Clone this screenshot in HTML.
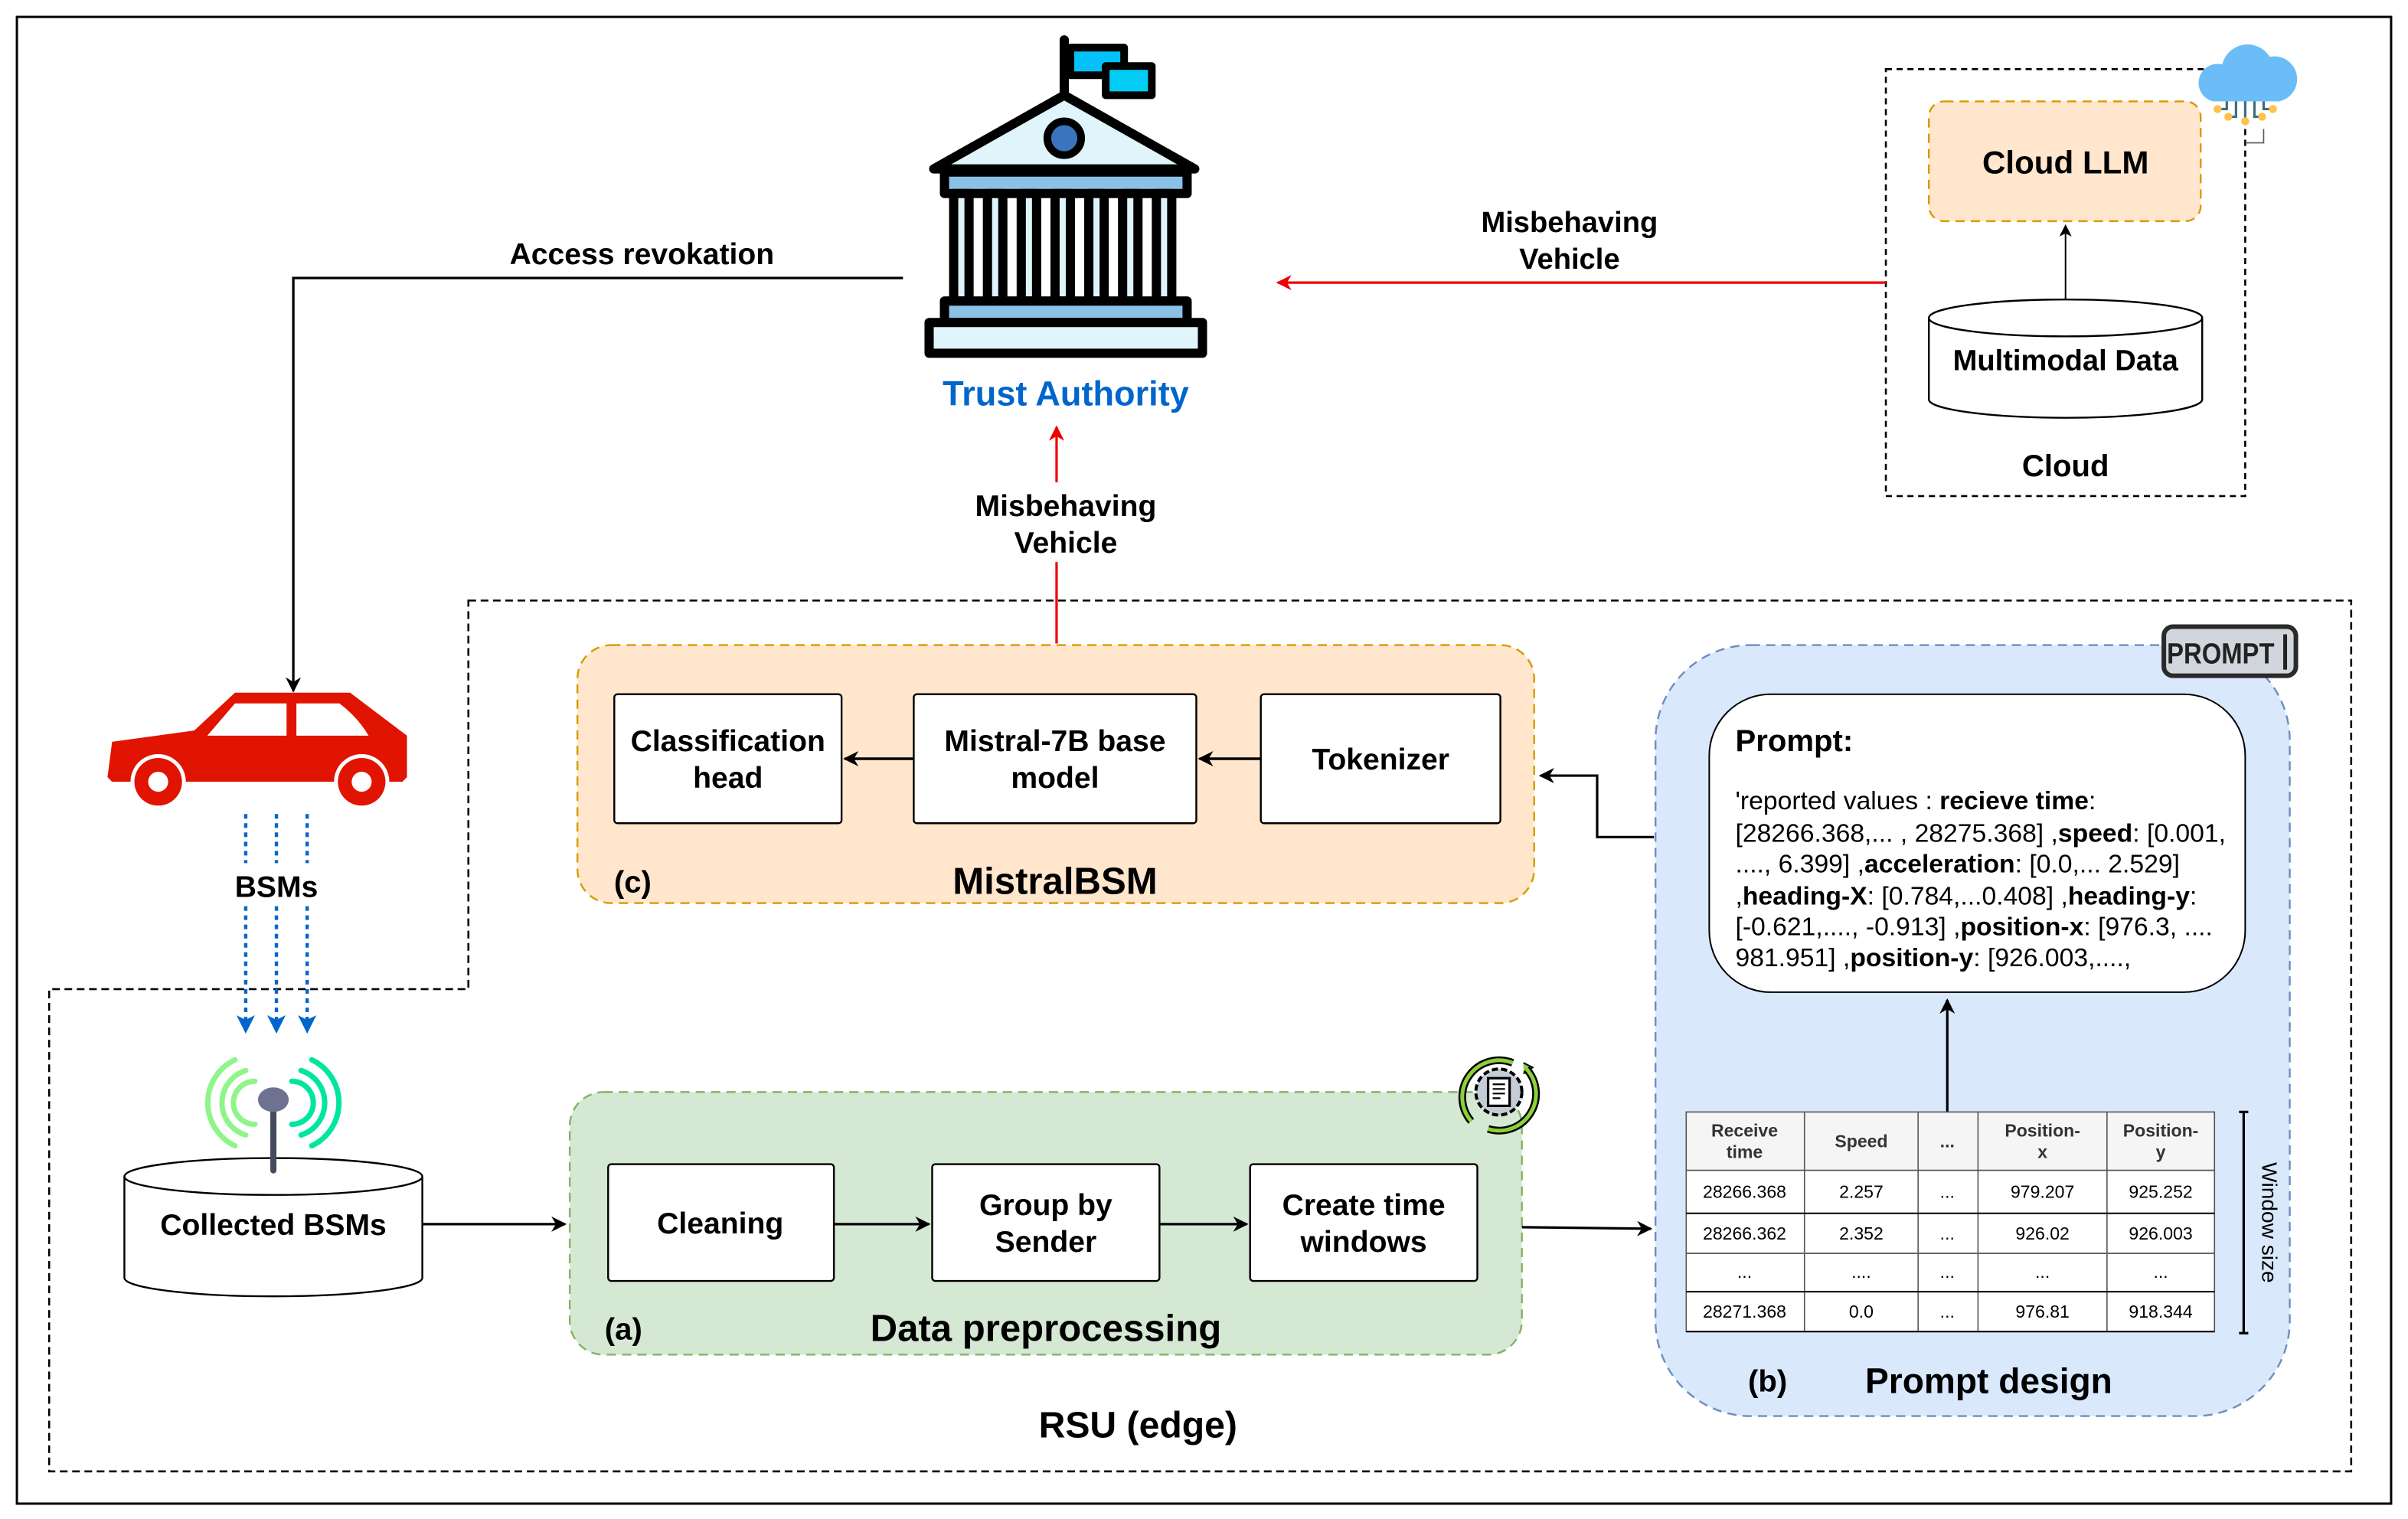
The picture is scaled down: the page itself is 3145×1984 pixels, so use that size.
<!DOCTYPE html>
<html><head><meta charset="utf-8"><style>
html,body{margin:0;padding:0;background:#fff;}
svg{display:block;}
text{font-family:"Liberation Sans",Arial,sans-serif;}
</style></head><body>
<svg width="3145" height="1984" viewBox="0 0 1568 989" preserveAspectRatio="none" xmlns="http://www.w3.org/2000/svg">
<defs>
<marker id="ab" markerWidth="10" markerHeight="10" refX="9" refY="5" orient="auto" markerUnits="userSpaceOnUse"><path d="M0,0 L10,5 L0,10 L3,5 z" fill="#000"/></marker>
<marker id="ar" markerWidth="10" markerHeight="10" refX="9" refY="5" orient="auto" markerUnits="userSpaceOnUse"><path d="M0,0 L10,5 L0,10 L3,5 z" fill="#e00"/></marker>
<marker id="as" markerWidth="8" markerHeight="8" refX="7" refY="4" orient="auto" markerUnits="userSpaceOnUse"><path d="M0,0 L8,4 L0,8 L2,4 z" fill="#000"/></marker>
<marker id="abl" markerWidth="12" markerHeight="12" refX="11" refY="6" orient="auto" markerUnits="userSpaceOnUse"><path d="M0,0 L12,6 L0,12 L3,6 z" fill="#0066cc"/></marker>
</defs>
<rect x="0" y="0" width="1568" height="989" fill="#fff"/>
<rect x="11" y="11" width="1546" height="968" fill="none" stroke="#000" stroke-width="1.5"/>

<!-- Cloud region -->
<rect x="1228" y="45" width="234" height="278" fill="none" stroke="#000" stroke-width="1.3" stroke-dasharray="4,3"/>
<rect x="1256" y="66" width="177" height="78" rx="10" fill="#ffe6cc" stroke="#d79b00" stroke-width="1.2" stroke-dasharray="6,4"/>
<text x="1345" y="113" font-size="21" font-weight="bold" text-anchor="middle">Cloud LLM</text>
<line x1="1345" y1="195" x2="1345" y2="147" stroke="#000" stroke-width="1" marker-end="url(#as)"/>
<path d="M1256,207 L1256,260 A89,12 0 0 0 1434,260 L1434,207" fill="#fff" stroke="#000" stroke-width="1.2"/>
<ellipse cx="1345" cy="207" rx="89" ry="12" fill="#fff" stroke="#000" stroke-width="1.2"/>
<text x="1345" y="241" font-size="19" font-weight="bold" text-anchor="middle">Multimodal Data</text>
<text x="1345" y="310" font-size="20" font-weight="bold" text-anchor="middle">Cloud</text>
<!-- cloud icon -->
<g>
<path d="M1441,66 a12,12 0 0 1 6,-24 a17,17 0 0 1 31,-5 a13,13 0 0 1 6,29 z" fill="#6bbdf7"/>
<g stroke="#3f6e7a" stroke-width="1.6" fill="none">
<path d="M1450,66 v5 h-5"/><path d="M1456,66 v10 h-4"/><path d="M1462,66 v13"/><path d="M1468,66 v10 h4"/><path d="M1474,66 v5 h5"/>
</g>
<g fill="#ffc04d"><circle cx="1444" cy="71" r="2.6"/><circle cx="1451" cy="76" r="2.6"/><circle cx="1462" cy="79" r="2.6"/><circle cx="1473" cy="76" r="2.6"/><circle cx="1480" cy="71" r="2.6"/></g>
<path d="M1474,84 v9 h-12" fill="none" stroke="#555" stroke-width="0.8"/>
</g>

<!-- Red arrow cloud to TA -->
<line x1="1228" y1="184" x2="832" y2="184" stroke="#e00" stroke-width="1.6" marker-end="url(#ar)"/>
<text x="1022" y="151" font-size="19" font-weight="bold" text-anchor="middle">Misbehaving</text>
<text x="1022" y="175" font-size="19" font-weight="bold" text-anchor="middle">Vehicle</text>

<!-- Trust authority icon -->
<g stroke="#000" stroke-width="6" stroke-linejoin="round" stroke-linecap="round">
<rect x="697" y="31" width="35" height="18" fill="#04c1f9" stroke-width="5"/>
<rect x="720" y="43" width="30" height="19" fill="#04cdf5" stroke-width="5"/>
<line x1="693" y1="26" x2="693" y2="62"/>
<path d="M608,110 L693,62 L778,110 Z" fill="#e0f4fb"/>
<circle cx="693" cy="90" r="11" fill="#3a73c0" stroke-width="5"/>
<rect x="615" y="112" width="158" height="14" fill="#8bc1e6"/>
<g fill="#dff3fb">
<rect x="621" y="126" width="10" height="70"/><rect x="643" y="126" width="10" height="70"/><rect x="665" y="126" width="10" height="70"/><rect x="687" y="126" width="10" height="70"/><rect x="709" y="126" width="10" height="70"/><rect x="731" y="126" width="10" height="70"/><rect x="753" y="126" width="10" height="70"/>
</g>
<rect x="615" y="196" width="158" height="14" fill="#8bc1e6"/>
<rect x="605" y="210" width="178" height="20" fill="#e0f4fb"/>
</g>
<text x="694" y="264" font-size="22.5" font-weight="bold" fill="#0066cc" text-anchor="middle">Trust Authority</text>

<!-- access revokation -->
<text x="418" y="172" font-size="19.5" font-weight="bold" text-anchor="middle">Access revokation</text>
<path d="M588,181 L191,181 L191,450" fill="none" stroke="#000" stroke-width="1.6" marker-end="url(#ab)"/>

<!-- red up arrow -->
<line x1="688" y1="419" x2="688" y2="278" stroke="#e00" stroke-width="1.6" marker-end="url(#ar)"/>
<rect x="630" y="314" width="130" height="52" fill="#fff"/>
<text x="694" y="336" font-size="19.5" font-weight="bold" text-anchor="middle">Misbehaving</text>
<text x="694" y="360" font-size="19.5" font-weight="bold" text-anchor="middle">Vehicle</text>

<!-- RSU dashed region -->
<path d="M305,391 L1531,391 L1531,958 L32,958 L32,644 L305,644 Z" fill="none" stroke="#000" stroke-width="1.3" stroke-dasharray="5,3"/>
<text x="741" y="936" font-size="24" font-weight="bold" text-anchor="middle">RSU (edge)</text>

<!-- Car -->
<path d="M73,483 L126.5,475.6 L153,451 L228,451 L265,479 L265,506 L262,509 L73,509 L70,506 Z" fill="#e01400"/>
<path d="M135,479 L153,458 L186.6,458 L186.6,479 Z M193,458 L221,458 Q233,467 240,479 L193,479 Z" fill="#fff"/>
<circle cx="103" cy="509" r="18" fill="#fff"/>
<circle cx="235.5" cy="509" r="18" fill="#fff"/>
<rect x="60" y="509" width="220" height="20" fill="#fff"/>
<circle cx="103" cy="509" r="15.5" fill="#e01400"/>
<circle cx="235.5" cy="509" r="15.5" fill="#e01400"/>
<circle cx="103" cy="509" r="6.5" fill="#fff"/>
<circle cx="235.5" cy="509" r="6.5" fill="#fff"/>

<!-- BSM arrows -->
<g stroke="#0066cc" stroke-width="2.2" stroke-dasharray="3,3">
<line x1="160" y1="530" x2="160" y2="562"/><line x1="180" y1="530" x2="180" y2="562"/><line x1="200" y1="530" x2="200" y2="562"/>
<line x1="160" y1="590" x2="160" y2="672" marker-end="url(#abl)"/>
<line x1="180" y1="590" x2="180" y2="672" marker-end="url(#abl)"/>
<line x1="200" y1="590" x2="200" y2="672" marker-end="url(#abl)"/>
</g>
<text x="180" y="584" font-size="19.5" font-weight="bold" text-anchor="middle">BSMs</text>

<!-- Collected BSMs cylinder -->
<path d="M81,766 L81,832 A97,12 0 0 0 275,832 L275,766" fill="#fff" stroke="#000" stroke-width="1.2"/>
<ellipse cx="178" cy="766" rx="97" ry="12" fill="#fff" stroke="#000" stroke-width="1.2"/>
<text x="178" y="804" font-size="19.5" font-weight="bold" text-anchor="middle">Collected BSMs</text>
<!-- antenna -->
<g fill="none" stroke-linecap="round" stroke-width="3.5">
<path d="M166,704 a14,14 0 0 0 0,28" stroke="#8ff58a"/>
<path d="M160,697 a22,22 0 0 0 0,42" stroke="#8ff58a"/>
<path d="M153,690 a31,31 0 0 0 0,56" stroke="#8ff58a"/>
<path d="M190,704 a14,14 0 0 1 0,28" stroke="#00e69e"/>
<path d="M196,697 a22,22 0 0 1 0,42" stroke="#00e69e"/>
<path d="M203,690 a31,31 0 0 1 0,56" stroke="#00e69e"/>
</g>
<line x1="178" y1="718" x2="178" y2="762" stroke="#474a5a" stroke-width="4" stroke-linecap="round"/>
<ellipse cx="178" cy="716" rx="10" ry="8" fill="#6e7290"/>

<line x1="275" y1="797" x2="368" y2="797" stroke="#000" stroke-width="1.6" marker-end="url(#ab)"/>

<!-- Data preprocessing -->
<rect x="371" y="711" width="620" height="171" rx="22" fill="#d5e8d4" stroke="#82b366" stroke-width="1.2" stroke-dasharray="6,4"/>
<g fill="#fff" stroke="#000" stroke-width="1.2">
<rect x="396" y="758" width="147" height="76" rx="2"/>
<rect x="607" y="758" width="148" height="76" rx="2"/>
<rect x="814" y="758" width="148" height="76" rx="2"/>
</g>
<g font-size="19.5" font-weight="bold" text-anchor="middle">
<text x="469" y="803">Cleaning</text>
<text x="681" y="791">Group by</text><text x="681" y="815">Sender</text>
<text x="888" y="791">Create time</text><text x="888" y="815">windows</text>
</g>
<line x1="543" y1="797" x2="605" y2="797" stroke="#000" stroke-width="1.6" marker-end="url(#ab)"/>
<line x1="755" y1="797" x2="812" y2="797" stroke="#000" stroke-width="1.6" marker-end="url(#ab)"/>
<text x="406" y="872" font-size="20" font-weight="bold" text-anchor="middle">(a)</text>
<text x="681" y="873" font-size="24.5" font-weight="bold" text-anchor="middle">Data preprocessing</text>
<!-- gear icon -->
<g>
<path d="M958,730 a24,24 0 0 1 27,-38" fill="none" stroke="#000" stroke-width="5"/>
<path d="M958,730 a24,24 0 0 1 27,-38" fill="none" stroke="#8cd13a" stroke-width="2.5"/>
<path d="M992,692 l6,3 l-6,4" fill="#8cd13a" stroke="#000" stroke-width="1"/>
<path d="M994,696 a24,24 0 0 1 -25,39" fill="none" stroke="#000" stroke-width="5"/>
<path d="M994,696 a24,24 0 0 1 -25,39" fill="none" stroke="#8cd13a" stroke-width="2.5"/>
<circle cx="976" cy="711" r="15" fill="#c4ccd6" stroke="#000" stroke-width="2" stroke-dasharray="4,2"/>
<rect x="969" y="702" width="14" height="18" fill="#fff" stroke="#000" stroke-width="1.6"/>
<path d="M972,706 h8 M972,709 h8 M972,712 h8 M972,715 h5" stroke="#000" stroke-width="1.1"/>
</g>

<line x1="991" y1="799" x2="1075" y2="800" stroke="#000" stroke-width="1.6" marker-end="url(#ab)"/>

<!-- Prompt design -->
<rect x="1078" y="420" width="413" height="502" rx="62" fill="#dae8fc" stroke="#6c8ebf" stroke-width="1.2" stroke-dasharray="6,4"/>
<rect x="1113" y="452" width="349" height="194" rx="40" fill="#fff" stroke="#000" stroke-width="1"/>
<text x="1130" y="489" font-size="20" font-weight="bold">Prompt:</text>
<g font-size="16.8">
<text x="1130" y="527">'reported values : <tspan font-weight="bold">recieve time</tspan>:</text>
<text x="1130" y="548">[28266.368,... , 28275.368] ,<tspan font-weight="bold">speed</tspan>: [0.001,</text>
<text x="1130" y="568">...., 6.399] ,<tspan font-weight="bold">acceleration</tspan>: [0.0,... 2.529]</text>
<text x="1130" y="589">,<tspan font-weight="bold">heading-X</tspan>: [0.784,...0.408] ,<tspan font-weight="bold">heading-y</tspan>:</text>
<text x="1130" y="609">[-0.621,...., -0.913] ,<tspan font-weight="bold">position-x</tspan>: [976.3, ....</text>
<text x="1130" y="629">981.951] ,<tspan font-weight="bold">position-y</tspan>: [926.003,....,</text>
</g>
<!-- PROMPT icon -->
<rect x="1409" y="408" width="86" height="32" rx="6" fill="#d1d6dc" stroke="#2a2a2a" stroke-width="3"/>
<text x="1446" y="432" font-size="19" font-weight="bold" font-family="Liberation Mono,monospace" text-anchor="middle" fill="#222" textLength="70" lengthAdjust="spacingAndGlyphs">PROMPT</text>
<line x1="1488" y1="413" x2="1488" y2="436" stroke="#222" stroke-width="2.5"/>

<line x1="1268" y1="724" x2="1268" y2="651" stroke="#000" stroke-width="1.6" marker-end="url(#ab)"/>
<!-- table -->
<g stroke="#555" stroke-width="0.8">
<rect x="1098" y="724" width="344" height="38" fill="#f5f5f5"/>
<rect x="1098" y="762" width="344" height="105" fill="#fff"/>
<line x1="1175" y1="724" x2="1175" y2="867"/><line x1="1249" y1="724" x2="1249" y2="867"/><line x1="1288" y1="724" x2="1288" y2="867"/><line x1="1372" y1="724" x2="1372" y2="867"/>
</g>
<g stroke="#000" stroke-width="1">
<line x1="1098" y1="790" x2="1442" y2="790"/><line x1="1098" y1="841" x2="1442" y2="841"/><line x1="1098" y1="867" x2="1442" y2="867"/><line x1="1098" y1="816" x2="1442" y2="816" stroke="#666"/>
</g>
<g font-size="11.5" text-anchor="middle">
<g font-weight="bold" fill="#333"><text x="1136" y="740">Receive</text><text x="1136" y="754">time</text><text x="1212" y="747">Speed</text><text x="1268" y="747">...</text><text x="1330" y="740">Position-</text><text x="1330" y="754">x</text><text x="1407" y="740">Position-</text><text x="1407" y="754">y</text></g>
<text x="1136" y="780">28266.368</text><text x="1212" y="780">2.257</text><text x="1268" y="780">...</text><text x="1330" y="780">979.207</text><text x="1407" y="780">925.252</text>
<text x="1136" y="807">28266.362</text><text x="1212" y="807">2.352</text><text x="1268" y="807">...</text><text x="1330" y="807">926.02</text><text x="1407" y="807">926.003</text>
<text x="1136" y="832">...</text><text x="1212" y="832">....</text><text x="1268" y="832">...</text><text x="1330" y="832">...</text><text x="1407" y="832">...</text>
<text x="1136" y="858">28271.368</text><text x="1212" y="858">0.0</text><text x="1268" y="858">...</text><text x="1330" y="858">976.81</text><text x="1407" y="858">918.344</text>
</g>
<path d="M1458,724 h6 M1461,724 V868 M1458,868 h6" stroke="#000" stroke-width="1.6" fill="none"/>
<text x="0" y="0" font-size="14" text-anchor="middle" transform="translate(1473,796) rotate(90)">Window size</text>
<text x="1151" y="906" font-size="20" font-weight="bold" text-anchor="middle">(b)</text>
<text x="1295" y="907" font-size="23" font-weight="bold" text-anchor="middle">Prompt design</text>

<!-- MistralBSM -->
<path d="M1077,545 L1040,545 L1040,505 L1003,505" fill="none" stroke="#000" stroke-width="1.6" marker-end="url(#ab)"/>
<rect x="376" y="420" width="623" height="168" rx="22" fill="#ffe6cc" stroke="#d79b00" stroke-width="1.2" stroke-dasharray="6,4"/>
<g fill="#fff" stroke="#000" stroke-width="1.2">
<rect x="400" y="452" width="148" height="84" rx="2"/>
<rect x="595" y="452" width="184" height="84" rx="2"/>
<rect x="821" y="452" width="156" height="84" rx="2"/>
</g>
<g font-size="19.5" font-weight="bold" text-anchor="middle">
<text x="474" y="489">Classification</text><text x="474" y="513">head</text>
<text x="687" y="489">Mistral-7B base</text><text x="687" y="513">model</text>
<text x="899" y="501">Tokenizer</text>
</g>
<line x1="595" y1="494" x2="550" y2="494" stroke="#000" stroke-width="1.8" marker-end="url(#ab)"/>
<line x1="821" y1="494" x2="781" y2="494" stroke="#000" stroke-width="1.8" marker-end="url(#ab)"/>
<text x="412" y="581" font-size="20" font-weight="bold" text-anchor="middle">(c)</text>
<text x="687" y="582" font-size="24.5" font-weight="bold" text-anchor="middle">MistralBSM</text>
</svg>
</body></html>
